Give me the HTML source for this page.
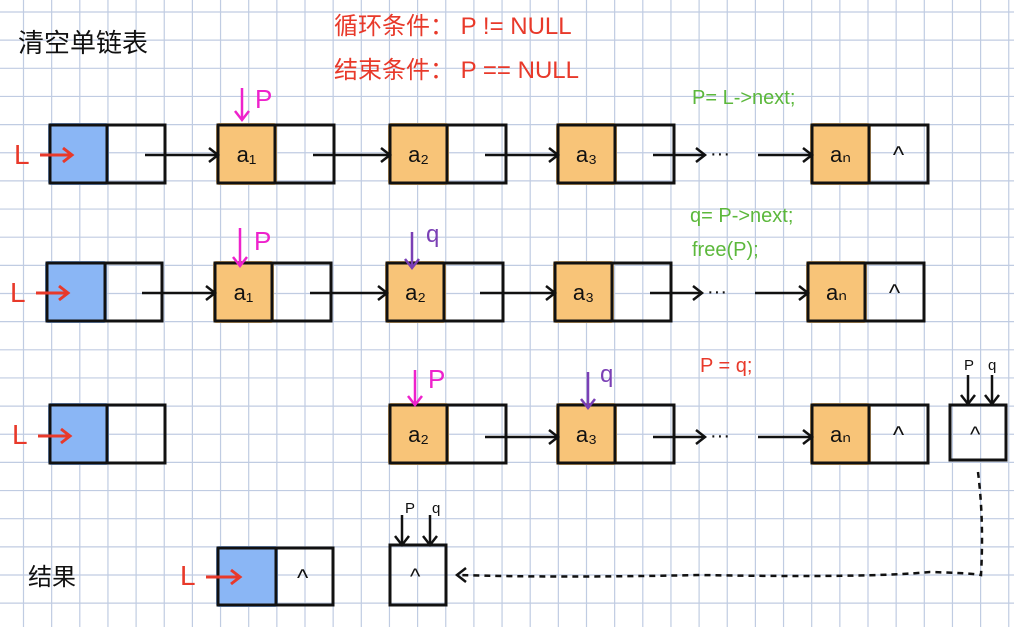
<!DOCTYPE html>
<html><head><meta charset="utf-8"><style>
html,body{margin:0;padding:0;background:#fff;}
svg{display:block;}
text{font-family:"Liberation Sans","Noto Sans CJK SC",sans-serif;}
</style></head><body>
<svg id="s" width="1014" height="627" viewBox="0 0 1014 627">
<g id="grid"></g>
<g id="nodes"></g>
<g id="labels">
<text x="18" y="52" font-size="26" fill="#111">清空单链表</text>
<text x="334" y="34" font-size="24" fill="#e8392a">循环条件： P != NULL</text>
<text x="334" y="78" font-size="24" fill="#e8392a">结束条件： P == NULL</text>
<text x="692" y="104" font-size="20" fill="#5cb83c">P= L-&gt;next;</text>
<text x="690" y="222" font-size="20" fill="#5cb83c">q= P-&gt;next;</text>
<text x="692" y="256" font-size="20" fill="#5cb83c">free(P);</text>
<text x="700" y="372" font-size="20" fill="#e8392a">P = q;</text>
<text x="28" y="585" font-size="24" fill="#111">结果</text>
</g>
</svg>
<script>
const NS="http://www.w3.org/2000/svg";
function mk(tag,attrs,parent){const e=document.createElementNS(NS,tag);for(const k in attrs)e.setAttribute(k,attrs[k]);parent.appendChild(e);return e;}
const grid=document.getElementById('grid');
for(let x=23.5;x<1014;x+=28.15){const l=mk('line',{x1:x,y1:0,x2:x,y2:627,stroke:'#c0cce2','stroke-width':1.2},grid);

}
for(let y=12;y<627;y+=28.15){const l=mk('line',{x1:0,y1:y,x2:1014,y2:y,stroke:'#c0cce2','stroke-width':1.2},grid);

}
const G=document.getElementById('nodes');
function node(x,y,w,h,split,fill,label,ptr){
 const g=mk('g',{},G);
 
 
 if(fill)mk('rect',{x:x-2,y:y-2,width:split-x+4,height:h+4,fill:fill,rx:3},g);
 mk('rect',{x:x,y:y,width:w,height:h,fill:'none',stroke:'#111','stroke-width':3},g);
 if(split)mk('line',{x1:split,y1:y,x2:split,y2:y+h,stroke:'#111','stroke-width':3},g);
 if(label){mk('text',{x:(x+split)/2,y:y+h/2+8,'font-size':22,'text-anchor':'middle',fill:'#111'},g).textContent=label;}
 if(ptr){mk('text',{x:(split+x+w)/2,y:y+h/2+9,'font-size':24,'text-anchor':'middle',fill:'#111'},g).textContent='^';}
}
function arrow(x1,y,x2,col,w){
 const g=mk('g',{},G);
 
 
 mk('line',{x1:x1,y1:y,x2:x2,y2:y,stroke:col,'stroke-width':w||2.5},g);
 mk('polyline',{points:`${x2-9},${y-7} ${x2},${y} ${x2-9},${y+7}`,fill:'none',stroke:col,'stroke-width':w||2.5},g);
}
function down(x,y1,y2,col){
 const g=mk('g',{},G);
 
 
 mk('line',{x1:x,y1:y1,x2:x,y2:y2,stroke:col,'stroke-width':2.5},g);
 mk('polyline',{points:`${x-7},${y2-9} ${x},${y2} ${x+7},${y2-9}`,fill:'none',stroke:col,'stroke-width':2.5},g);
}
function txt(x,y,s,col,fs){const t=mk('text',{x:x,y:y,'font-size':fs,fill:col},G);t.textContent=s;

}
const BL='#8ab6f5',OR='#f8c478',RED='#e8392a',MAG='#ee22cc',PUR='#7a3fb5';
// row 1
node(50,125,115,58,107,BL,'',false);txt(14,164,'L',RED,28);arrow(40,155,72,RED,3);
[[218,'a₁'],[390,'a₂'],[558,'a₃'],[812,'aₙ']].forEach(([x,l],i)=>node(x,125,116,58,x+57,OR,l,i===3));
arrow(145,155,218,'#111');arrow(313,155,390,'#111');arrow(485,155,558,'#111');arrow(653,155,705,'#111');
txt(710,160,'···','#111',20);arrow(758,155,812,'#111');
down(242,88,120,MAG);txt(255,108,'P',MAG,26);
// row 2
node(47,263,115,58,105,BL,'',false);txt(10,302,'L',RED,28);arrow(36,293,68,RED,3);
[[215,'a₁'],[387,'a₂'],[555,'a₃'],[808,'aₙ']].forEach(([x,l],i)=>node(x,263,116,58,x+57,OR,l,i===3));
arrow(142,293,215,'#111');arrow(310,293,387,'#111');arrow(480,293,555,'#111');arrow(650,293,702,'#111');
txt(707,298,'···','#111',20);arrow(755,293,808,'#111');
down(240,228,266,MAG);txt(254,250,'P',MAG,26);
down(412,232,268,PUR);txt(426,242,'q',PUR,24);
// row 3
node(50,405,115,58,107,BL,'',false);txt(12,444,'L',RED,28);arrow(38,436,70,RED,3);
[[390,'a₂'],[558,'a₃'],[812,'aₙ']].forEach(([x,l],i)=>node(x,405,116,58,x+57,OR,l,i===2));
arrow(485,437,558,'#111');arrow(653,437,705,'#111');
txt(710,442,'···','#111',20);arrow(758,437,812,'#111');
down(415,370,405,MAG);txt(428,388,'P',MAG,26);
down(588,372,408,PUR);txt(600,382,'q',PUR,24);
node(950,405,56,55,0,null,'',false);txt(970,442,'^','#111',22);
down(968,375,404,'#111');down(992,375,404,'#111');txt(964,370,'P','#111',15);txt(988,370,'q','#111',15);
// row 4
node(218,548,115,57,276,BL,'',false);txt(180,585,'L',RED,28);arrow(206,577,240,RED,3);
txt(297,586,'^','#111',24);
node(390,545,56,60,0,null,'',false);txt(410,584,'^','#111',22);
down(402,515,545,'#111');down(430,515,545,'#111');txt(405,513,'P','#111',15);txt(432,513,'q','#111',15);
const d=mk('path',{d:'M978 472 Q984 520 981 575 Q970 573 930 572 Q870 578 700 575 Q560 578 458 575',fill:'none',stroke:'#111','stroke-width':2.5,'stroke-dasharray':'6 5'},G);


const hd=mk('polyline',{points:'466,568 457,575 466,582',fill:'none',stroke:'#111','stroke-width':2.5},G);


</script>
</body></html>
